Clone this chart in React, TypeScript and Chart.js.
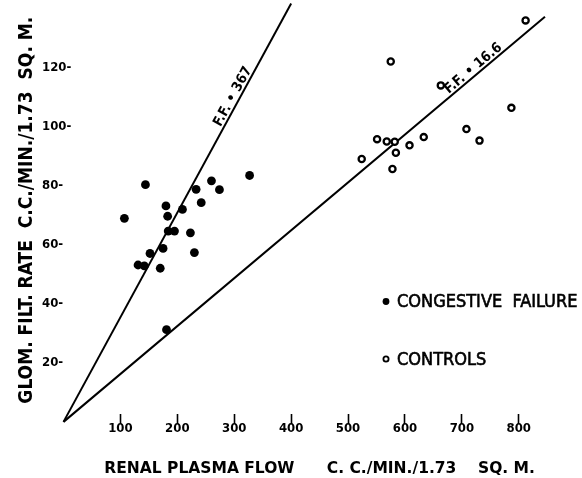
import { useEffect, useRef } from 'react';
import { Chart, registerables } from 'chart.js';

Chart.register(...registerables);

// ---- data ----
const congestiveX = [144, 107, 180, 183, 233, 260, 274, 327, 242, 209, 184, 195, 223, 175, 152, 230, 131, 142, 170, 181];
const congestiveY = [80.3, 68.9, 73.1, 69.6, 78.7, 81.6, 78.6, 83.4, 74.2, 71.9, 64.6, 64.6, 64.0, 58.7, 57.0, 57.3, 53.1, 52.8, 52.0, 31.2];

const controlsX = [812, 575, 663, 787, 708, 731, 633, 608, 551, 568, 582, 584, 524, 578];
const controlsY = [135.9, 122.0, 113.9, 106.3, 99.1, 95.2, 96.4, 93.6, 95.7, 94.9, 94.8, 91.1, 89.0, 85.6];

// filtration-fraction lines (start and end of each drawn line)
const steepLineX = [0, 400];
const steepLineY = [0, 141.6];
const shallowLineX = [0, 846];
const shallowLineY = [0, 137.1];

const seriesLabels = ['CONGESTIVE  FAILURE', 'CONTROLS'];
const lineLabels = ['F.F. \u2022 367', 'F.F. \u2022 16.6'];
const lineLabelPos = [0.77, 0.86];

const xTicks = [100, 200, 300, 400, 500, 600, 700, 800];
const yTicks = [20, 40, 60, 80, 100, 120];

const xTitle = 'RENAL PLASMA FLOW      C. C./MIN./1.73    SQ. M.';
const yTitle = 'GLOM. FILT. RATE  C.C./MIN./1.73  SQ. M.';

const COND = '"DejaVu Sans Condensed", "DejaVu Sans", sans-serif';
const WIDE = '"DejaVu Sans", sans-serif';

const toPoints = (xs: number[], ys: number[]) => xs.map((x, i) => ({ x, y: ys[i] }));

const annotationPlugin = {
  id: 'annotations',
  afterDatasetsDraw(chart: any) {
    const ctx = chart.ctx as CanvasRenderingContext2D;
    // line labels along the F.F. lines
    [2, 3].forEach((dsIndex, k) => {
      const meta = chart.getDatasetMeta(dsIndex);
      const p0 = meta.data[0];
      const p1 = meta.data[meta.data.length - 1];
      if (!p0 || !p1) return;
      const t = lineLabelPos[k];
      const px = p0.x + (p1.x - p0.x) * t;
      const py = p0.y + (p1.y - p0.y) * t;
      const ang = Math.atan2(p1.y - p0.y, p1.x - p0.x);
      ctx.save();
      ctx.translate(px, py);
      ctx.rotate(ang);
      ctx.font = `bold 14px ${COND}`;
      ctx.fillStyle = '#000';
      ctx.textAlign = 'center';
      ctx.textBaseline = 'alphabetic';
      ctx.fillText(lineLabels[k], 0, -3);
      ctx.restore();
    });

    // legend inside the plot
    const ca = chart.chartArea;
    const lx = ca.left + 322.5;
    const rows = [301.5, 359];
    ctx.save();
    ctx.font = `18px ${COND}`;
    ctx.fillStyle = '#000';
    ctx.strokeStyle = '#000';
    ctx.textAlign = 'left';
    ctx.textBaseline = 'middle';
    rows.forEach((ry, i) => {
      ctx.beginPath();
      ctx.arc(lx, ry, i === 0 ? 3.4 : 2.6, 0, Math.PI * 2);
      if (i === 0) {
        ctx.fill();
      } else {
        ctx.lineWidth = 1.8;
        ctx.stroke();
      }
      ctx.lineWidth = 0.6;
      ctx.fillText(seriesLabels[i], lx + 11, ry + 1);
      ctx.strokeText(seriesLabels[i], lx + 11, ry + 1);
    });
    ctx.restore();
  },
};

export default function App() {
  const canvasRef = useRef<HTMLCanvasElement | null>(null);

  useEffect(() => {
    if (!canvasRef.current) return;
    const chart = new Chart(canvasRef.current, {
      type: 'scatter',
      data: {
        datasets: [
          {
            label: seriesLabels[0],
            data: toPoints(congestiveX, congestiveY),
            pointRadius: 4.4,
            pointBackgroundColor: '#000',
            pointBorderWidth: 0,
            pointStyle: 'circle',
          },
          {
            label: seriesLabels[1],
            data: toPoints(controlsX, controlsY),
            pointRadius: 3.1,
            pointBackgroundColor: '#fff',
            pointBorderColor: '#000',
            pointBorderWidth: 2.3,
            pointStyle: 'circle',
          },
          {
            label: lineLabels[0],
            data: toPoints(steepLineX, steepLineY),
            showLine: true,
            pointRadius: 0,
            borderColor: '#000',
            borderWidth: 2,
            clip: false,
          } as any,
          {
            label: lineLabels[1],
            data: toPoints(shallowLineX, shallowLineY),
            showLine: true,
            pointRadius: 0,
            borderColor: '#000',
            borderWidth: 2,
            clip: false,
          } as any,
        ],
      },
      options: {
        animation: false,
        responsive: true,
        maintainAspectRatio: false,
        events: [],
        layout: { padding: { left: 0, right: 2, top: 0, bottom: 0 } },
        plugins: {
          legend: { display: false },
          tooltip: { enabled: false },
        },
        scales: {
          x: {
            type: 'linear',
            min: 0,
            max: 900,
            afterFit: (s: any) => {
              s.height = 64;
            },
            border: { display: false },
            grid: {
              drawOnChartArea: false,
              drawTicks: true,
              tickLength: 10,
              tickWidth: 1.6,
              tickColor: (c: any) => (c.tick && xTicks.includes(c.tick.value) ? '#000' : 'rgba(0,0,0,0)'),
            },
            ticks: {
              stepSize: 100,
              autoSkip: false,
              maxRotation: 0,
              padding: -3,
              color: '#000',
              font: { family: COND, weight: 'bold', size: 13 },
              callback: (v: any) => (xTicks.includes(v) ? String(v) : ''),
            },
            title: {
              display: true,
              text: xTitle,
              color: '#000',
              font: { family: WIDE, size: 15.5, weight: 'bold', lineHeight: 1.2 },
              padding: { top: 0, bottom: 0 },
            },
          },
          y: {
            type: 'linear',
            min: 8 / 3,
            max: 422 / 3,
            afterFit: (s: any) => {
              s.width = 63.5;
            },
            border: { display: false },
            grid: { display: false, drawTicks: false },
            ticks: {
              stepSize: 20,
              autoSkip: false,
              mirror: true,
              crossAlign: 'near',
              padding: -21.5,
              color: '#000',
              font: { family: COND, weight: 'bold', size: 13 },
              callback: (v: any) => {
                const r = Math.round(v * 1000) / 1000;
                return yTicks.includes(r) ? `${r}-` : '';
              },
            },
            title: {
              display: true,
              text: yTitle,
              color: '#000',
              font: { family: COND, size: 19, weight: 'bold', lineHeight: 1.2 },
              padding: { top: 15.5, bottom: 0 },
            },
          },
        },
      } as any,
      plugins: [annotationPlugin],
    });
    return () => chart.destroy();
  }, []);

  return (
    <div style={{ position: 'fixed', left: 0, top: 0, width: 582, height: 478, background: '#fff' }}>
      <canvas ref={canvasRef} />
    </div>
  );
}
